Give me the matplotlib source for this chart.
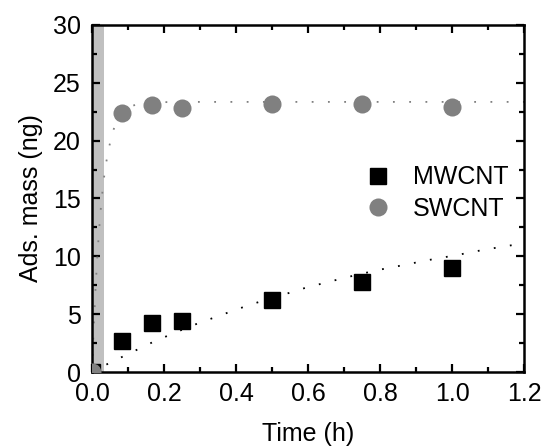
"""Adsorbed mass vs time for MWCNT and SWCNT, with fitted curves."""
import matplotlib
matplotlib.use("Agg")
import matplotlib.pyplot as plt
from matplotlib.ticker import MultipleLocator

FS = 18
plt.rcParams["font.family"] = ["Liberation Sans", "DejaVu Sans"]
plt.rcParams["font.size"] = FS

# measured points
time_h = [0.0, 0.083, 0.167, 0.25, 0.5, 0.75, 1.0]
mwcnt = [0.0, 2.65, 4.25, 4.45, 6.25, 7.8, 8.95]
swcnt = [0.0, 22.4, 23.05, 22.85, 23.2, 23.15, 22.95]

# fitted curves
mw_fit_t = [0, 0.02, 0.05, 0.09, 0.13, 0.17, 0.21, 0.25, 0.29, 0.33, 0.37,
            0.41, 0.45, 0.5, 0.56, 0.6, 0.64, 0.68, 0.72, 0.76, 0.8, 0.85,
            0.89, 0.93, 0.97, 1.01, 1.05, 1.09, 1.13, 1.17, 1.2]
mw_fit_y = [0, 0.33, 0.8, 1.4, 2.0, 2.6, 3.13, 3.65, 4.15, 4.6, 5.05,
            5.5, 5.92, 6.4, 6.95, 7.35, 7.65, 7.97, 8.28, 8.57, 8.85, 9.15,
            9.4, 9.65, 9.88, 10.08, 10.34, 10.57, 10.78, 10.98, 11.1]
sw_fit_t = [0, 0.005, 0.01, 0.015, 0.02, 0.025, 0.03, 0.035, 0.04, 0.048,
            0.056, 0.065, 0.075, 0.09, 0.11, 0.14, 0.2, 0.3, 1.2]
sw_fit_y = [0, 4.0, 7.3, 10.1, 12.4, 14.3, 15.9, 17.2, 18.2, 19.5,
            20.6, 21.4, 22.0, 22.6, 23.0, 23.25, 23.33, 23.35, 23.35]

band_end = 0.033

fig = plt.figure(figsize=(5.42, 4.46), dpi=100)
ax = fig.add_axes([0.1697, 0.1659, 0.7971, 0.7781])

ax.axvspan(0, band_end, color="#c0c0c0", lw=0, zorder=0)

ax.plot(mw_fit_t, mw_fit_y, color="black", lw=1.3, ls=(0, (1, 8)), zorder=2)
ax.plot(sw_fit_t, sw_fit_y, color="#808080", lw=1.3, ls=(0, (1, 8)), zorder=2)

ax.plot(time_h, mwcnt, "s", color="black", ms=11, mew=1, label="MWCNT", zorder=3)
ax.plot(time_h, swcnt, "o", color="#808080", ms=13, mew=0, label="SWCNT", zorder=3)

ax.set_xlim(0, 1.2)
ax.set_ylim(0, 30)
ax.xaxis.set_major_locator(MultipleLocator(0.2))
ax.xaxis.set_minor_locator(MultipleLocator(0.1))
ax.yaxis.set_major_locator(MultipleLocator(5))
ax.yaxis.set_minor_locator(MultipleLocator(2.5))
ax.xaxis.set_major_formatter(plt.FuncFormatter(lambda v, _: f"{v:.1f}"))

ax.tick_params(which="both", direction="in", top=True, right=True, width=1.6)
ax.tick_params(which="major", length=6, labelsize=FS)
ax.tick_params(axis="x", which="major", pad=7)
ax.tick_params(axis="y", which="major", pad=8)
ax.tick_params(which="minor", length=3.5)
for sp in ax.spines.values():
    sp.set_linewidth(1.8)

ax.set_xlabel("Time (h)", fontsize=FS, labelpad=12)
ax.set_ylabel("Ads. mass (ng)", fontsize=FS, labelpad=7)

ax.legend(loc="upper left", bbox_to_anchor=(0.593, 0.624), frameon=False,
          fontsize=FS, handletextpad=0.6, borderaxespad=0, labelspacing=0.3,
          handlelength=1.6)

fig.savefig("out.png", dpi=100)
